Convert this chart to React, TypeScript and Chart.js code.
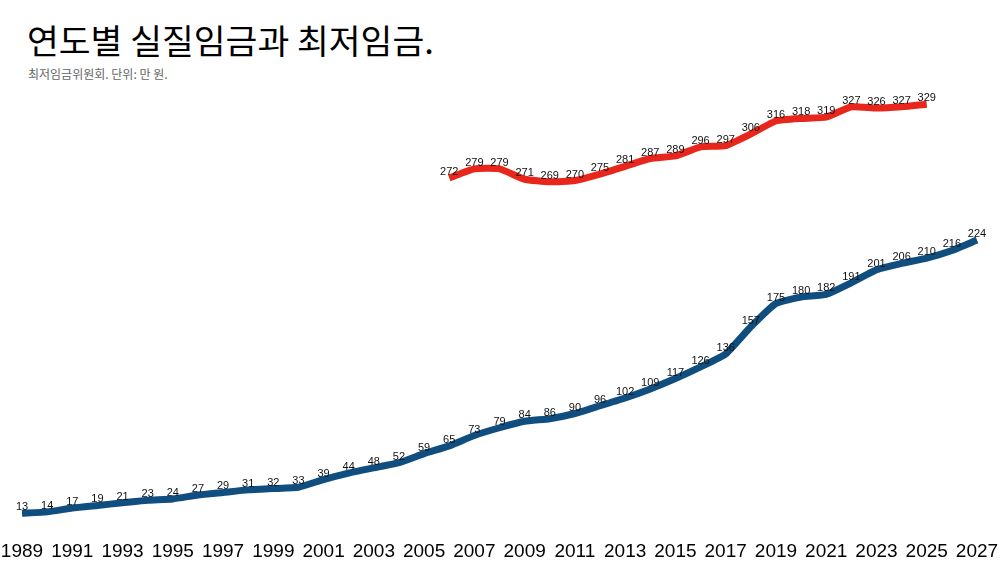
import React, { useEffect, useRef } from "react";
import { Chart, registerables } from "chart.js";

Chart.register(...registerables);

const years: string[] = [];
for (let y = 1989; y <= 2027; y++) years.push(String(y));

const realWage: number[] = [
  13, 14, 17, 19, 21, 23, 24, 27, 29, 31, 32, 33, 39, 44, 48, 52, 59, 65, 73, 79,
  84, 86, 90, 96, 102, 109, 117, 126, 136, 157, 175, 180, 182, 191, 201, 206, 210, 216, 224,
];

// 2006 - 2025
const minWageStart = 2006;
const minWageValues: number[] = [
  272, 279, 279, 271, 269, 270, 275, 281, 287, 289, 296, 297, 306, 316, 318, 319, 327, 326, 327, 329,
];

const minWage: (number | null)[] = years.map((y) => {
  const i = Number(y) - minWageStart;
  return i >= 0 && i < minWageValues.length ? minWageValues[i] : null;
});

const TITLE = "연도별 실질임금과 최저임금.";
const SUBTITLE = "최저임금위원회. 단위: 만 원.";

const valueLabels = {
  id: "valueLabels",
  afterDatasetsDraw(chart: any) {
    const ctx = chart.ctx;
    ctx.save();
    ctx.font = "11px 'Liberation Sans', Arial, sans-serif";
    ctx.fillStyle = "#111";
    ctx.textAlign = "center";
    ctx.textBaseline = "middle";
    chart.data.datasets.forEach((ds: any, di: number) => {
      const meta = chart.getDatasetMeta(di);
      meta.data.forEach((pt: any, i: number) => {
        const v = ds.data[i];
        if (v === null || v === undefined) return;
        ctx.fillText(String(v), pt.x, pt.y - 6);
      });
    });
    ctx.restore();
  },
};

export default function App() {
  const ref = useRef<HTMLCanvasElement>(null);
  useEffect(() => {
    if (!ref.current) return;
    const chart = new Chart(ref.current, {
      type: "line",
      data: {
        labels: years,
        datasets: [
          {
            label: "최저임금",
            data: minWage,
            borderColor: "#e8261b",
            borderWidth: 7,
            pointRadius: 0,
            tension: 0.15,
            spanGaps: false,
            borderCapStyle: "butt",
            borderJoinStyle: "round",
          },
          {
            label: "실질임금",
            data: realWage,
            borderColor: "#114e80",
            borderWidth: 7,
            pointRadius: 0,
            tension: 0.15,
            borderCapStyle: "butt",
            borderJoinStyle: "round",
          },
        ],
      },
      options: {
        animation: false,
        responsive: false,
        maintainAspectRatio: false,
        layout: { padding: { top: 77, left: 22, right: 23, bottom: 0 } },
        plugins: {
          legend: { display: false },
          tooltip: { enabled: false },
          title: { display: false },
        },
        scales: {
          x: {
            offset: false,
            grid: { display: false, drawTicks: false },
            border: { display: false },
            afterFit: (s: any) => {
              s.paddingLeft = 0;
              s.paddingRight = 0;
              s.height = 33;
            },
            ticks: {
              autoSkip: false,
              maxRotation: 0,
              padding: 10,
              color: "#000",
              font: { size: 19, family: "'Liberation Sans', Arial, sans-serif" },
              callback: (_v: any, i: number) => (i % 2 === 0 ? years[i] : ""),
            },
          },
          y: {
            display: false,
            min: 0,
            max: 350,
          },
        },
      },
      plugins: [valueLabels],
    });
    return () => chart.destroy();
  }, []);

  return (
    <div style={{ position: "fixed", left: 0, top: 0, width: 1000, height: 563, background: "#fff" }}>
      <div
        style={{
          position: "absolute",
          left: 27,
          top: 16,
          fontFamily: "'Noto Sans CJK KR', sans-serif",
          fontSize: 34.6,
          color: "#000",
          lineHeight: "46px",
          whiteSpace: "nowrap",
        }}
      >
        {TITLE}
      </div>
      <div
        style={{
          position: "absolute",
          left: 28,
          top: 66,
          fontFamily: "'Noto Sans CJK KR', sans-serif",
          fontSize: 12,
          color: "#666",
          lineHeight: "16px",
          whiteSpace: "nowrap",
        }}
      >
        {SUBTITLE}
      </div>
      <canvas ref={ref} width={1000} height={563} style={{ position: "absolute", left: 0, top: 0 }} />
    </div>
  );
}
